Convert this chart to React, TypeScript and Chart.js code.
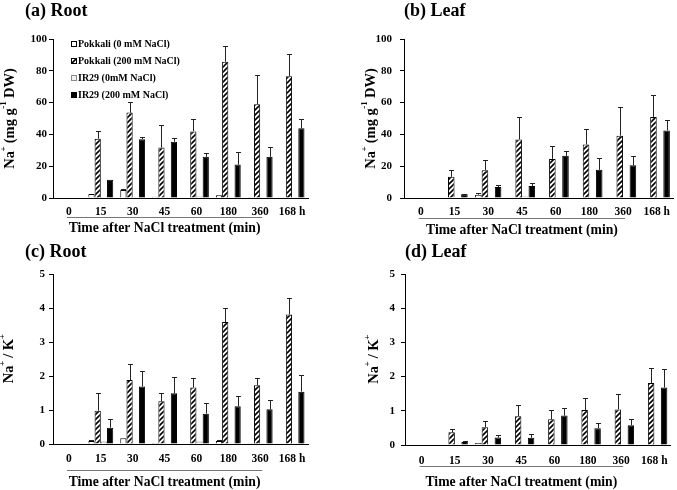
import React, { useEffect, useRef } from 'react';
import { Chart, registerables } from 'chart.js';
Chart.register(...registerables);

// ---------------- DATA ----------------
const categories = ['0', '15', '30', '45', '60', '180', '360', '168 h'];
const seriesLabels = ['Pokkali (0 mM NaCl)', 'Pokkali (200 mM NaCl)', 'IR29 (0mM NaCl)', 'IR29 (200 mM NaCl)'];

// (a) Root Na+ (mg g-1 DW)
const rootNaPokkali0 = [0, 2.5, 5.0, 0.8, 0, 1.7, 0.2, 0];
const rootNaPokkali200 = [0, 37.3, 53.7, 31.8, 41.9, 85.7, 59.0, 76.6];
const rootNaIR0 = [0, 0.8, 0.4, 0.4, 1.0, 0.4, 0, 0];
const rootNaIR200 = [0, 11.4, 37.0, 35.4, 25.9, 21.0, 25.9, 43.8];
const rootNaErrPokkali0 = [0, 0, 0.9, 0, 0, 0, 0, 0];
const rootNaErrPokkali200 = [0, 4.6, 6.5, 14.1, 8.0, 9.9, 18.3, 13.7];
const rootNaErrIR0 = [0, 0, 0, 0, 0, 0, 0, 0];
const rootNaErrIR200 = [0, 0, 1.5, 2.3, 2.7, 8.0, 6.1, 6.1];

// (b) Leaf Na+ (mg g-1 DW)
const leafNaPokkali0 = [0, 0, 2.1, 0, 0, 0, 0, 0];
const leafNaPokkali200 = [0, 13.3, 17.5, 36.8, 24.6, 33.7, 39.2, 51.0];
const leafNaIR0 = [0, 0, 0, 1.0, 0, 0, 0, 0];
const leafNaIR200 = [0, 2.3, 6.9, 7.6, 26.5, 17.7, 20.6, 42.5];
const leafNaErrPokkali0 = [0, 0, 0.8, 0, 0, 0, 0, 0];
const leafNaErrPokkali200 = [0, 4.2, 6.7, 14.2, 8.0, 9.7, 18.3, 13.6];
const leafNaErrIR0 = [0, 0, 0, 0, 0, 0, 0, 0];
const leafNaErrIR200 = [0, 0.2, 1.3, 1.9, 2.8, 7.6, 5.9, 6.3];

// (c) Root Na+/K+
const rootRatioPokkali0 = [0, 0.09, 0.17, 0.03, 0, 0.09, 0.02, 0];
const rootRatioPokkali200 = [0, 0.98, 1.88, 1.26, 1.66, 3.59, 1.73, 3.81];
const rootRatioIR0 = [0, 0.07, 0.02, 0.02, 0.07, 0.04, 0.02, 0.02];
const rootRatioIR200 = [0, 0.48, 1.69, 1.49, 0.89, 1.11, 1.02, 1.54];
const rootRatioErrPokkali0 = [0, 0.03, 0, 0, 0, 0.02, 0, 0];
const rootRatioErrPokkali200 = [0, 0.53, 0.48, 0.24, 0.29, 0.40, 0.22, 0.49];
const rootRatioErrIR0 = [0, 0, 0, 0, 0, 0, 0, 0];
const rootRatioErrIR200 = [0, 0.26, 0.47, 0.49, 0.31, 0.29, 0.26, 0.50];

// (d) Leaf Na+/K+
const leafRatioPokkali0 = [0, 0, 0.06, 0, 0, 0, 0, 0];
const leafRatioPokkali200 = [0, 0.37, 0.52, 0.84, 0.75, 1.02, 1.04, 1.81];
const leafRatioIR0 = [0, 0, 0, 0.03, 0, 0, 0, 0];
const leafRatioIR200 = [0, 0.09, 0.22, 0.21, 0.86, 0.49, 0.58, 1.68];
const leafRatioErrPokkali0 = [0, 0, 0, 0, 0, 0, 0, 0];
const leafRatioErrPokkali200 = [0, 0.10, 0.18, 0.34, 0.27, 0.34, 0.44, 0.43];
const leafRatioErrIR0 = [0, 0, 0, 0, 0, 0, 0, 0];
const leafRatioErrIR200 = [0, 0.03, 0.06, 0.10, 0.23, 0.16, 0.18, 0.55];

const xTitleText = 'Time after NaCl treatment (min)';
const naTitle = [{ t: 'Na' }, { t: '+', sup: true }, { t: ' (mg g' }, { t: '-1', sup: true }, { t: ' DW)' }];
const ratioTitle = [{ t: 'Na' }, { t: '+', sup: true }, { t: ' / K' }, { t: '+', sup: true }];

// ---------------- STYLE / LAYOUT ----------------
const FONT = "'Times New Roman', 'Liberation Serif', serif";

type Part = { t: string; sup?: boolean };
type PanelCfg = {
  title: string;
  yTitle: Part[];
  yMax: number;
  yStep: number;
  values: number[][];
  errors: number[][];
  x: number; y: number; w: number; h: number;
  area: { left: number; right: number; top: number; bottom: number };
  xPad: number; yPad: number;
  titleX: number; titleY: number; yTitleX: number;
  underlineY: number; xTitleY: number;
  legend: boolean;
};

const panels: PanelCfg[] = [
  {
    title: '(a) Root', yTitle: naTitle, yMax: 100, yStep: 20,
    values: [rootNaPokkali0, rootNaPokkali200, rootNaIR0, rootNaIR200],
    errors: [rootNaErrPokkali0, rootNaErrPokkali200, rootNaErrIR0, rootNaErrIR200],
    x: 0, y: 0, w: 338, h: 240,
    area: { left: 53, right: 308, top: 39, bottom: 198 },
    xPad: 7, yPad: 2, titleX: 25, titleY: 11, yTitleX: 10, underlineY: 217, xTitleY: 228.5, legend: true,
  },
  {
    title: '(b) Leaf', yTitle: naTitle, yMax: 100, yStep: 20,
    values: [leafNaPokkali0, leafNaPokkali200, leafNaIR0, leafNaIR200],
    errors: [leafNaErrPokkali0, leafNaErrPokkali200, leafNaErrIR0, leafNaErrIR200],
    x: 338, y: 0, w: 339, h: 240,
    area: { left: 66, right: 339, top: 39, bottom: 198 },
    xPad: 7, yPad: 8, titleX: 66, titleY: 11, yTitleX: 33, underlineY: 218, xTitleY: 230, legend: false,
  },
  {
    title: '(c) Root', yTitle: ratioTitle, yMax: 5, yStep: 1,
    values: [rootRatioPokkali0, rootRatioPokkali200, rootRatioIR0, rootRatioIR200],
    errors: [rootRatioErrPokkali0, rootRatioErrPokkali200, rootRatioErrIR0, rootRatioErrIR200],
    x: 0, y: 240, w: 338, h: 250,
    area: { left: 53, right: 308, top: 34, bottom: 204 },
    xPad: 8, yPad: 4, titleX: 25, titleY: 12, yTitleX: 9, underlineY: 230, xTitleY: 242, legend: false,
  },
  {
    title: '(d) Leaf', yTitle: ratioTitle, yMax: 5, yStep: 1,
    values: [leafRatioPokkali0, leafRatioPokkali200, leafRatioIR0, leafRatioIR200],
    errors: [leafRatioErrPokkali0, leafRatioErrPokkali200, leafRatioErrIR0, leafRatioErrIR200],
    x: 338, y: 240, w: 339, h: 250,
    area: { left: 67, right: 333, top: 34, bottom: 205 },
    xPad: 9, yPad: 6, titleX: 67, titleY: 12, yTitleX: 36, underlineY: 226, xTitleY: 242, legend: false,
  },
];

function makeHatch(): CanvasPattern | string {
  const c = document.createElement('canvas');
  c.width = 5; c.height = 5;
  const g = c.getContext('2d');
  if (!g) return '#fff';
  g.fillStyle = '#fff';
  g.fillRect(0, 0, 5, 5);
  g.strokeStyle = '#000';
  g.lineWidth = 1.6;
  g.beginPath();
  g.moveTo(-1, 6); g.lineTo(6, -1);
  g.moveTo(-1, 1); g.lineTo(1, -1);
  g.moveTo(4, 6); g.lineTo(6, 4);
  g.stroke();
  return g.createPattern(c, 'repeat') || '#fff';
}

function drawRich(ctx: CanvasRenderingContext2D, parts: Part[], size: number) {
  const sup = size * 0.62;
  const widths = parts.map((p) => {
    ctx.font = `bold ${p.sup ? sup : size}px ${FONT}`;
    return ctx.measureText(p.t).width - (p.sup ? 1 : 0);
  });
  const total = widths.reduce((a, b) => a + b, 0);
  let x = -total / 2;
  ctx.textAlign = 'left';
  ctx.textBaseline = 'middle';
  parts.forEach((p, i) => {
    ctx.font = `bold ${p.sup ? sup : size}px ${FONT}`;
    ctx.fillText(p.t, p.sup ? x - 0.5 : x, p.sup ? -size * 0.45 : 0);
    x += widths[i];
  });
}

function Panel({ cfg }: { cfg: PanelCfg }) {
  const ref = useRef<HTMLCanvasElement | null>(null);
  useEffect(() => {
    if (!ref.current) return;
    const hatch = makeHatch();
    const fills = ['#ffffff', hatch, '#f2f2f2', '#000000'];
    const borders = ['#000000', '#000000', '#8a8a8a', '#000000'];

    const errorPlugin = {
      id: 'errorBars',
      afterDatasetsDraw(chart: any) {
        const ctx = chart.ctx as CanvasRenderingContext2D;
        const ys = chart.scales.y;
        ctx.save();
        ctx.strokeStyle = '#222';
        ctx.lineWidth = 1;
        chart.data.datasets.forEach((ds: any, i: number) => {
          const meta = chart.getDatasetMeta(i);
          meta.data.forEach((bar: any, j: number) => {
            const e = cfg.errors[i][j];
            if (!e) return;
            const v = ds.data[j];
            const yTop = Math.round(ys.getPixelForValue(v + e)) + 0.5;
            const x = Math.round(bar.x) + 0.5;
            ctx.beginPath();
            ctx.moveTo(x, bar.y);
            ctx.lineTo(x, yTop);
            ctx.moveTo(x - 2.5, yTop);
            ctx.lineTo(x + 2.5, yTop);
            ctx.stroke();
          });
        });
        ctx.restore();
      },
    };

    const decorPlugin = {
      id: 'decor',
      afterDraw(chart: any) {
        const ctx = chart.ctx as CanvasRenderingContext2D;
        const area = chart.chartArea;
        const xs = chart.scales.x;
        ctx.save();
        ctx.fillStyle = '#000';
        // panel title
        ctx.font = `bold 18px ${FONT}`;
        ctx.textAlign = 'left';
        ctx.textBaseline = 'middle';
        ctx.fillText(cfg.title, cfg.titleX, cfg.titleY);
        // y title
        ctx.save();
        ctx.translate(cfg.yTitleX, (area.top + area.bottom) / 2);
        ctx.rotate(-Math.PI / 2);
        drawRich(ctx, cfg.yTitle, 14.5);
        ctx.restore();
        // underline below minute labels
        const x0 = xs.getPixelForValue(0) - 2;
        const x6 = xs.getPixelForValue(6) + 2;
        ctx.strokeStyle = '#777';
        ctx.lineWidth = 1;
        ctx.beginPath();
        ctx.moveTo(x0, cfg.underlineY + 0.5);
        ctx.lineTo(x6, cfg.underlineY + 0.5);
        ctx.stroke();
        // x title
        ctx.font = `bold 13.7px ${FONT}`;
        ctx.textAlign = 'center';
        ctx.textBaseline = 'middle';
        ctx.fillText(xTitleText, (x0 + x6) / 2, cfg.xTitleY);
        // legend
        if (cfg.legend) {
          ctx.font = `bold 10px ${FONT}`;
          ctx.textAlign = 'left';
          seriesLabels.forEach((lab, i) => {
            const by = area.top + 5 + i * 17;
            const bx = area.left + 18;
            ctx.fillStyle = fills[i] as any;
            ctx.fillRect(bx, by - 3, 6, 6);
            ctx.strokeStyle = borders[i];
            ctx.lineWidth = 1;
            ctx.strokeRect(bx + 0.5, by - 3 + 0.5, 5, 5);
            ctx.fillStyle = '#000';
            ctx.fillText(lab, bx + 7, by);
          });
        }
        ctx.restore();
      },
    };

    const tickFont = { family: FONT, size: 11.5, weight: 'bold' as const };
    const chart = new Chart(ref.current, {
      type: 'bar',
      data: {
        labels: categories,
        datasets: cfg.values.map((vals, i) => ({
          label: seriesLabels[i],
          data: vals,
          backgroundColor: fills[i] as any,
          borderColor: borders[i],
          borderWidth: 1,
          categoryPercentage: 0.78,
          barPercentage: 1.0,
        })),
      },
      options: {
        responsive: false,
        animation: false,
        devicePixelRatio: 1,
        layout: {
          padding: { left: 0, top: cfg.area.top, right: cfg.w - cfg.area.right, bottom: 0 },
        },
        plugins: {
          legend: { display: false },
          tooltip: { enabled: false },
          title: { display: false },
        },
        scales: {
          x: {
            type: 'category',
            offset: true,
            grid: { display: false, drawTicks: false },
            border: { display: true, color: '#000', width: 1 },
            ticks: {
              font: tickFont,
              color: '#000',
              padding: cfg.xPad,
              maxRotation: 0,
              minRotation: 0,
              autoSkip: false,
            },
            afterFit: (s: any) => {
              s.height = cfg.h - cfg.area.bottom;
            },
          },
          y: {
            min: 0,
            max: cfg.yMax,
            ticks: {
              stepSize: cfg.yStep,
              font: { family: FONT, size: 11, weight: 'bold' as const },
              color: '#000',
              padding: cfg.yPad,
            },
            grid: { drawOnChartArea: false, drawTicks: true, tickLength: 4, color: '#000' },
            border: { display: true, color: '#000', width: 1 },
            afterFit: (s: any) => {
              s.width = cfg.area.left;
            },
          },
        },
      } as any,
      plugins: [errorPlugin, decorPlugin],
    });
    return () => chart.destroy();
  }, [cfg]);

  return (
    <canvas
      ref={ref}
      width={cfg.w}
      height={cfg.h}
      style={{ position: 'absolute', left: cfg.x, top: cfg.y, width: cfg.w, height: cfg.h }}
    />
  );
}

export default function App() {
  return (
    <div style={{ position: 'fixed', left: 0, top: 0, width: 677, height: 490, background: '#fff', overflow: 'hidden' }}>
      {panels.map((p) => (
        <Panel key={p.title} cfg={p} />
      ))}
    </div>
  );
}
